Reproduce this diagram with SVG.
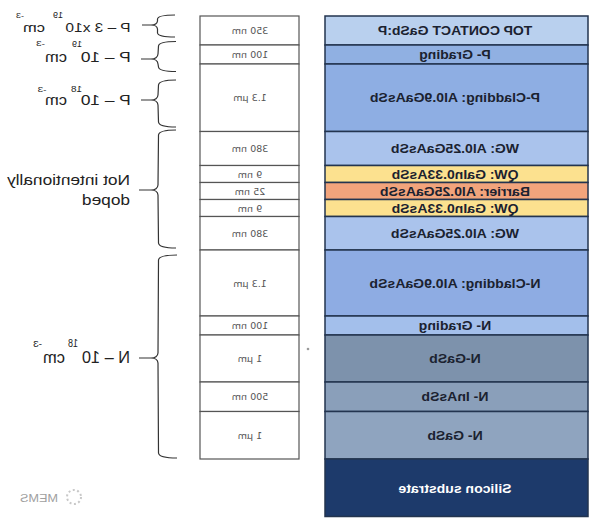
<svg xmlns="http://www.w3.org/2000/svg" width="599" height="526" viewBox="0 0 599 526">
<style>
.lay{stroke:#23344f;stroke-width:1.5}
.lt{font-family:"Liberation Sans",Arial,sans-serif;font-weight:bold;font-size:13px;fill:#1b2230;text-anchor:middle}
.wt{fill:#ffffff}
.cell{fill:#ffffff;stroke:#555555;stroke-width:1.2}
.th{font-family:"DejaVu Sans",sans-serif;font-size:9.5px;fill:#555555;text-anchor:middle}
.lab{font-family:"Liberation Sans",Arial,sans-serif;fill:#222222;text-anchor:start}
.br{fill:none;stroke:#333333;stroke-width:1.2}
</style>
<rect width="599" height="526" fill="#ffffff"/>

<g id="layers">
<g id="top-contact"><rect class="lay" x="325" y="16" width="263" height="29" fill="#b9d0ee"/><text class="lt" transform="translate(455,35) scale(-1.08,1)">TOP CONTACT GaSb:P</text></g>
<g id="p-grading"><rect class="lay" x="325" y="45" width="263" height="19" fill="#90b0e2"/><text class="lt" transform="translate(455,59) scale(-1.08,1)">P- Grading</text></g>
<g id="p-cladding"><rect class="lay" x="325" y="64" width="263" height="67.5" fill="#8eaee3"/><text class="lt" transform="translate(455,102) scale(-1.08,1)">P-Cladding: Al0.9GaAsSb</text></g>
<g id="wg-top"><rect class="lay" x="325" y="131.5" width="263" height="34" fill="#aac3ec"/><text class="lt" transform="translate(455,153) scale(-1.08,1)">WG: Al0.25GaAsSb</text></g>
<g id="qw-top"><rect class="lay" x="325" y="165.5" width="263" height="17" fill="#fce18f"/><text class="lt" transform="translate(455,178.5) scale(-1.08,1)">QW: GaIn0.33AsSb</text></g>
<g id="barrier"><rect class="lay" x="325" y="182.5" width="263" height="17" fill="#f2a47c"/><text class="lt" transform="translate(455,195.5) scale(-1.08,1)">Barrier: Al0.25GaAsSb</text></g>
<g id="qw-bottom"><rect class="lay" x="325" y="199.5" width="263" height="17" fill="#fce18f"/><text class="lt" transform="translate(455,212.5) scale(-1.08,1)">QW: GaIn0.33AsSb</text></g>
<g id="wg-bottom"><rect class="lay" x="325" y="216.5" width="263" height="33.5" fill="#aac3ec"/><text class="lt" transform="translate(455,238) scale(-1.08,1)">WG: Al0.25GaAsSb</text></g>
<g id="n-cladding"><rect class="lay" x="325" y="250" width="263" height="66" fill="#8eace3"/><text class="lt" transform="translate(455,288) scale(-1.08,1)">N-Cladding: Al0.9GaAsSb</text></g>
<g id="n-grading"><rect class="lay" x="325" y="316" width="263" height="19" fill="#a3bfeb"/><text class="lt" transform="translate(455,330) scale(-1.08,1)">N- Grading</text></g>
<g id="n-gasb-1"><rect class="lay" x="325" y="335" width="263" height="47" fill="#7d92ac"/><text class="lt" transform="translate(455,363) scale(-1.08,1)">N-GaSb</text></g>
<g id="n-inassb"><rect class="lay" x="325" y="382" width="263" height="29.5" fill="#8a9fba"/><text class="lt" transform="translate(455,401) scale(-1.08,1)">N- InAsSb</text></g>
<g id="n-gasb-2"><rect class="lay" x="325" y="411.5" width="263" height="47.5" fill="#8fa4bf"/><text class="lt" transform="translate(455,440) scale(-1.08,1)">N- GaSb</text></g>
<g id="substrate"><rect class="lay" x="325" y="459" width="263" height="57.5" fill="#1d3a6b"/><text class="lt wt" transform="translate(455,493) scale(-1.08,1)">Silicon substrate</text></g>
</g>

<g id="thickness">
<g id="t1"><rect class="cell" x="200" y="16" width="99" height="29"/><text class="th" transform="translate(250,34) scale(-1,1)">350 nm</text></g>
<g id="t2"><rect class="cell" x="200" y="45" width="99" height="19"/><text class="th" transform="translate(250,58) scale(-1,1)">100 nm</text></g>
<g id="t3"><rect class="cell" x="200" y="64" width="99" height="67.5"/><text class="th" transform="translate(250,101) scale(-1,1)">1.3 μm</text></g>
<g id="t4"><rect class="cell" x="200" y="131.5" width="99" height="34"/><text class="th" transform="translate(250,152) scale(-1,1)">380 nm</text></g>
<g id="t5"><rect class="cell" x="200" y="165.5" width="99" height="17"/><text class="th" transform="translate(250,177.5) scale(-1,1)">9 nm</text></g>
<g id="t6"><rect class="cell" x="200" y="182.5" width="99" height="17"/><text class="th" transform="translate(250,194.5) scale(-1,1)">25 nm</text></g>
<g id="t7"><rect class="cell" x="200" y="199.5" width="99" height="17"/><text class="th" transform="translate(250,211.5) scale(-1,1)">9 nm</text></g>
<g id="t8"><rect class="cell" x="200" y="216.5" width="99" height="33.5"/><text class="th" transform="translate(250,237) scale(-1,1)">380 nm</text></g>
<g id="t9"><rect class="cell" x="200" y="250" width="99" height="66"/><text class="th" transform="translate(250,287) scale(-1,1)">1.3 μm</text></g>
<g id="t10"><rect class="cell" x="200" y="316" width="99" height="19"/><text class="th" transform="translate(250,329) scale(-1,1)">100 nm</text></g>
<g id="t11"><rect class="cell" x="200" y="335" width="99" height="47"/><text class="th" transform="translate(250,362) scale(-1,1)">1 μm</text></g>
<g id="t12"><rect class="cell" x="200" y="382" width="99" height="29.5"/><text class="th" transform="translate(250,400) scale(-1,1)">500 nm</text></g>
<g id="t13"><rect class="cell" x="200" y="411.5" width="99" height="47.5"/><text class="th" transform="translate(250,439) scale(-1,1)">1 μm</text></g>
</g>

<g id="connectors">
<path class="br" d="M175,15 Q158,15 157.5,19 L157.5,21 Q157,25 151,25 L142,25 M151,25 Q157,25 157.5,29 L157.5,33 Q158,37 175,37"/>
<path class="br" d="M176,41.5 Q159,41.5 158.5,46 L158,54 Q157.5,59 151,59 L141,59 M151,59 Q157.5,59 158,64 L158.5,67 Q159,71.5 176,71.5"/>
<path class="br" d="M176,80 Q159,80 158.5,85 L158,95 Q157.5,100 151,100 L141,100 M151,100 Q157.5,100 158,105 L158.5,122 Q159,127 176,127"/>
<path class="br" d="M176,130 Q159,130 158.5,135 L158,185 Q157.5,190 151,190 L139,190 M151,190 Q157.5,190 158,195 L158.5,243 Q159,248 176,248"/>
<path class="br" d="M177,255 Q159,255 158.5,260 L158,353 Q157.5,358 151,358 L139,358 M151,358 Q157.5,358 158,363 L158.5,453 Q159,458 177,458"/>
</g>

<g id="label-p1">
<text class="lab" font-size="13" transform="translate(130.5,31.5) scale(-1,1)" textLength="65" lengthAdjust="spacingAndGlyphs">P – 3 x10</text>
<text class="lab" font-size="9" transform="translate(63,18) scale(-1,1)" textLength="10" lengthAdjust="spacingAndGlyphs">19</text>
<text class="lab" font-size="13" transform="translate(45,31.5) scale(-1,1)" textLength="22" lengthAdjust="spacingAndGlyphs">cm</text>
<text class="lab" font-size="8" transform="translate(24,18) scale(-1,1)" textLength="8" lengthAdjust="spacingAndGlyphs">-3</text>
</g>
<g id="label-p2">
<text class="lab" font-size="14" transform="translate(130.7,61.5) scale(-1,1)" textLength="50" lengthAdjust="spacingAndGlyphs">P – 10</text>
<text class="lab" font-size="9" transform="translate(82,47) scale(-1,1)" textLength="10" lengthAdjust="spacingAndGlyphs">19</text>
<text class="lab" font-size="14" transform="translate(67,61.5) scale(-1,1)" textLength="22" lengthAdjust="spacingAndGlyphs">cm</text>
<text class="lab" font-size="8" transform="translate(45,46) scale(-1,1)" textLength="9" lengthAdjust="spacingAndGlyphs">-3</text>
</g>
<g id="label-p3">
<text class="lab" font-size="14" transform="translate(130.7,105) scale(-1,1)" textLength="50" lengthAdjust="spacingAndGlyphs">P – 10</text>
<text class="lab" font-size="9" transform="translate(82,91.5) scale(-1,1)" textLength="11" lengthAdjust="spacingAndGlyphs">18</text>
<text class="lab" font-size="14" transform="translate(67,105) scale(-1,1)" textLength="22" lengthAdjust="spacingAndGlyphs">cm</text>
<text class="lab" font-size="8" transform="translate(46.5,91.5) scale(-1,1)" textLength="9" lengthAdjust="spacingAndGlyphs">-3</text>
</g>
<g id="label-nid">
<text class="lab" font-size="14" transform="translate(130,185) scale(-1,1)" textLength="123" lengthAdjust="spacingAndGlyphs">Not intentionally</text>
<text class="lab" font-size="14" transform="translate(130,205) scale(-1,1)" textLength="48" lengthAdjust="spacingAndGlyphs">doped</text>
</g>
<g id="label-n">
<text class="lab" font-size="16" transform="translate(130,363) scale(-1,1)" textLength="48" lengthAdjust="spacingAndGlyphs">N – 10</text>
<text class="lab" font-size="10" transform="translate(78,347) scale(-1,1)" textLength="10" lengthAdjust="spacingAndGlyphs">18</text>
<text class="lab" font-size="16" transform="translate(65,363) scale(-1,1)" textLength="22" lengthAdjust="spacingAndGlyphs">cm</text>
<text class="lab" font-size="9" transform="translate(42,347) scale(-1,1)" textLength="9" lengthAdjust="spacingAndGlyphs">-3</text>
</g>

<g id="logo">
<circle cx="74" cy="497" r="7" fill="none" stroke="#c8c8c8" stroke-width="2" stroke-dasharray="2 2.5"/>
<text font-family="'Liberation Sans',Arial,sans-serif" font-size="11" fill="#a0a0a0" text-anchor="start" transform="translate(58,502) scale(-1,1)" textLength="38" lengthAdjust="spacingAndGlyphs">MEMS</text>
</g>
<circle cx="308" cy="349" r="1.3" fill="#9a9a9a"/>
</svg>
